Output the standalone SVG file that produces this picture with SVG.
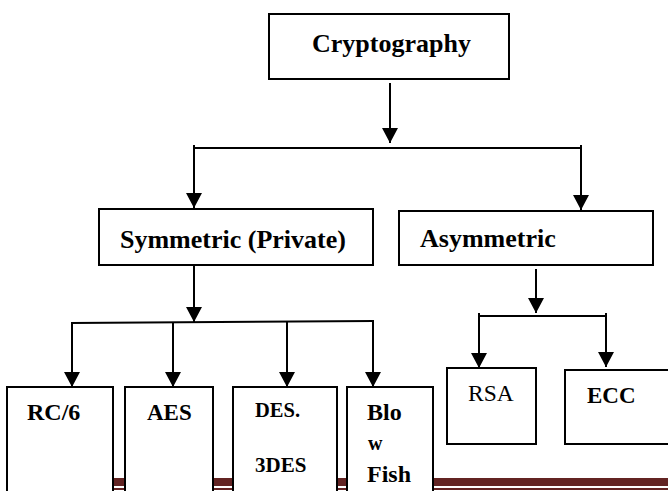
<svg xmlns="http://www.w3.org/2000/svg" width="668" height="491" viewBox="0 0 668 491">
<style>
.box{fill:#fff;stroke:#000;stroke-width:2}
.ln{fill:none;stroke:#000;stroke-width:2}
.t{font-family:"Liberation Serif","Times New Roman",serif;font-weight:bold;fill:#000}
.r{font-family:"Liberation Serif","Times New Roman",serif;font-weight:normal;fill:#000}
</style>
<defs>
<marker id="ah" viewBox="0 0 15 16" refX="15" refY="8" markerWidth="15" markerHeight="16" markerUnits="userSpaceOnUse" orient="auto">
<path d="M0,0 L15,8 L0,16 z" fill="#000"/>
</marker>
</defs>
<rect width="668" height="491" fill="#fff"/>
<g id="band">
<rect x="10" y="478" width="658" height="8" fill="#632423"/>
<rect x="10" y="488" width="658" height="2" fill="#632423"/>
</g>
<g id="connectors">
<line class="ln" x1="390" y1="83" x2="390" y2="143" marker-end="url(#ah)"/>
<line class="ln" x1="193" y1="148" x2="582" y2="148"/>
<line class="ln" x1="194" y1="145" x2="194" y2="208" marker-end="url(#ah)"/>
<line class="ln" x1="581" y1="145" x2="581" y2="210" marker-end="url(#ah)"/>
<line class="ln" x1="194" y1="265" x2="194" y2="322" marker-end="url(#ah)"/>
<line class="ln" x1="71" y1="323" x2="374" y2="321"/>
<line class="ln" x1="72" y1="323" x2="72" y2="387" marker-end="url(#ah)"/>
<line class="ln" x1="173" y1="322" x2="173" y2="387" marker-end="url(#ah)"/>
<line class="ln" x1="287" y1="322" x2="287" y2="387" marker-end="url(#ah)"/>
<line class="ln" x1="373" y1="321" x2="373" y2="387" marker-end="url(#ah)"/>
<line class="ln" x1="536" y1="269" x2="536" y2="313" marker-end="url(#ah)"/>
<line class="ln" x1="478" y1="316" x2="607" y2="316"/>
<line class="ln" x1="479" y1="313" x2="479" y2="368" marker-end="url(#ah)"/>
<line class="ln" x1="606" y1="313" x2="606" y2="367" marker-end="url(#ah)"/>
</g>
<g id="cryptography">
<rect class="box" x="269" y="14" width="240" height="65"/>
<text class="t" x="312" y="52" font-size="26">Cryptography</text>
</g>
<g id="symmetric">
<rect class="box" x="99" y="209" width="274" height="56"/>
<text class="t" x="120" y="248" font-size="26">Symmetric (Private)</text>
</g>
<g id="asymmetric">
<rect class="box" x="399" y="211" width="254" height="54"/>
<text class="t" x="420" y="247" font-size="26">Asymmetric</text>
</g>
<g id="rc6">
<rect class="box" x="7" y="387" width="106" height="120"/>
<text class="t" x="27" y="420" font-size="24">RC/6</text>
</g>
<g id="aes">
<rect class="box" x="125" y="387" width="88" height="120"/>
<text class="t" x="147" y="420" font-size="23">AES</text>
</g>
<g id="des">
<rect class="box" x="233" y="387" width="104" height="120"/>
<text class="t" x="255" y="417" font-size="20.5">DES.</text>
<text class="t" x="255" y="472" font-size="21">3DES</text>
</g>
<g id="blowfish">
<rect class="box" x="347" y="387" width="86" height="120"/>
<text class="t" x="367" y="420" font-size="24">Blo</text>
<text class="t" x="368" y="450" font-size="20">w</text>
<text class="t" x="367" y="482" font-size="24">Fish</text>
</g>
<g id="rsa">
<rect class="box" x="447" y="368" width="89" height="76"/>
<text class="r" x="468" y="401" font-size="23.5">RSA</text>
</g>
<g id="ecc">
<rect class="box" x="565" y="370" width="120" height="74"/>
<text class="t" x="587" y="403" font-size="23">ECC</text>
</g>
</svg>
